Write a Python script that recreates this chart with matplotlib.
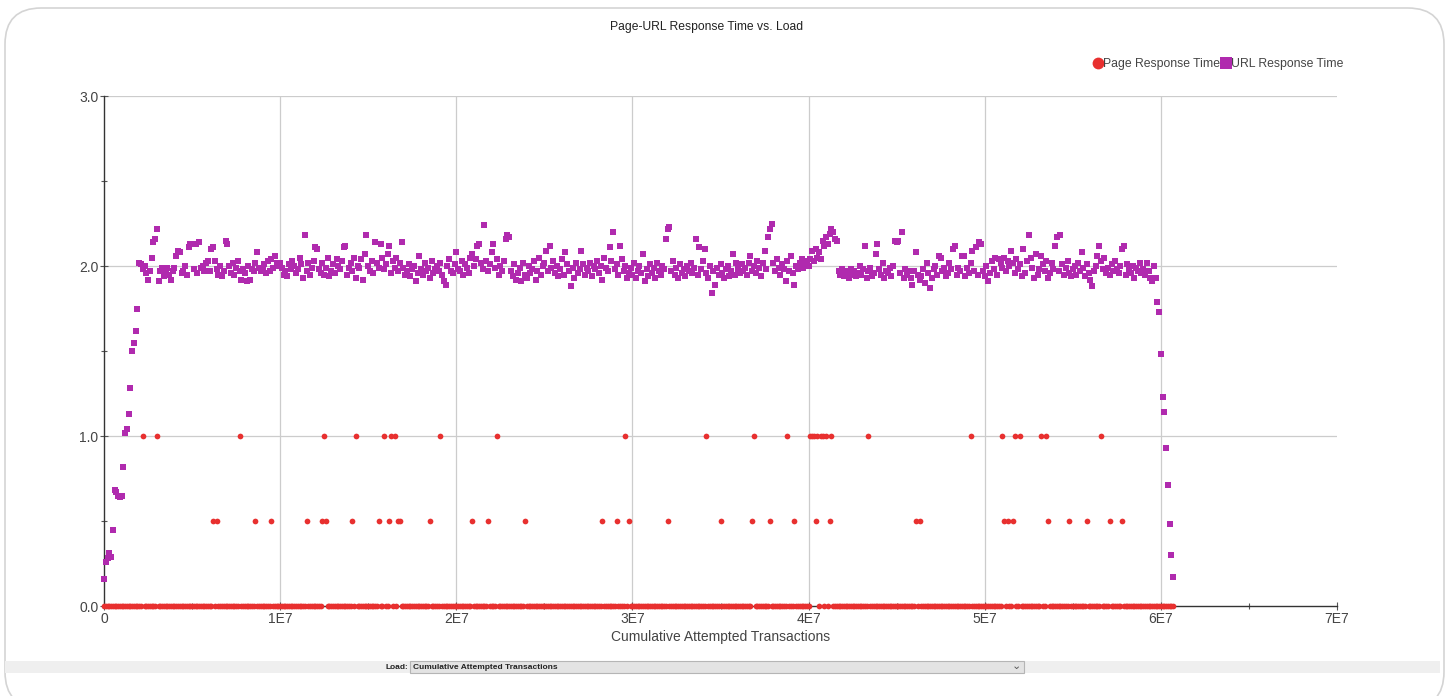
import numpy as np
import matplotlib
matplotlib.use("Agg")
import matplotlib.pyplot as plt
from matplotlib.lines import Line2D
from matplotlib.patches import FancyBboxPatch, Rectangle

plt.rcParams['font.family'] = ['Liberation Sans', 'DejaVu Sans']

# URL response time, one sample per 1E5 attempted transactions (10 per row = 1E6)
url_time = [
    0.16, 0.26, 0.28, 0.31, 0.29, 0.45, 0.68, 0.67, 0.65, 0.64,
    0.65, 0.82, 1.02, 1.04, 1.13, 1.28, 1.50, 1.55, 1.62, 1.75,
    2.02, 2.01, 1.98, 2.00, 1.96, 1.92, 1.97, 2.05, 2.14, 2.16,
    2.22, 1.91, 1.97, 1.99, 1.94, 1.96, 1.99, 1.95, 1.92, 1.97,
    1.99, 2.06, 2.09, 2.08, 1.96, 1.97, 2.00, 1.95, 2.11, 2.13,
    2.13, 1.98, 2.13, 1.96, 2.14, 1.99, 2.00, 1.97, 2.02, 2.03,
    1.97, 2.10, 2.11, 2.03, 1.98, 1.95, 2.00, 1.94, 1.97, 2.15,
    2.13, 2.00, 1.96, 2.02, 1.95, 1.99, 2.03, 1.97, 1.92, 1.98,
    1.96, 1.91, 2.00, 1.92, 1.98, 1.97, 2.02, 2.08, 1.99, 1.97,
    1.98, 2.01, 1.96, 2.03, 1.97, 2.04, 1.99, 2.06, 2.02, 2.00,
    2.02, 1.99, 1.95, 1.97, 1.94, 2.01, 1.98, 2.03, 2.00, 1.96,
    1.98, 2.05, 2.01, 1.93, 2.18, 1.97, 2.02, 1.95, 1.99, 2.03,
    2.11, 2.10, 1.98, 1.96, 2.02, 1.95, 1.99, 2.05, 1.94, 1.97,
    2.01, 1.96, 2.04, 2.00, 1.98, 2.03, 2.11, 2.12, 1.95, 1.99,
    2.02, 1.97, 2.05, 1.93, 2.00, 1.99, 2.04, 1.92, 2.07, 2.18,
    2.00, 1.97, 2.03, 1.96, 2.14, 2.02, 1.99, 2.13, 2.05, 1.98,
    2.01, 2.07, 2.12, 1.96, 2.03, 1.99, 2.05, 1.97, 2.02, 2.14,
    1.99, 1.95, 1.97, 2.01, 1.94, 1.98, 2.00, 1.91, 1.96, 2.06,
    1.98, 1.95, 2.02, 1.97, 1.99, 1.93, 2.03, 1.96, 1.98, 2.00,
    1.97, 2.02, 1.95, 1.91, 1.89, 2.00, 2.04, 1.97, 1.96, 2.01,
    2.08, 1.98, 1.97, 2.03, 1.95, 2.01, 1.99, 1.96, 2.05, 2.07,
    2.00, 2.04, 2.12, 2.13, 2.02, 1.98, 2.24, 2.03, 1.97, 2.01,
    2.08, 2.13, 1.99, 2.04, 1.95, 2.00, 1.97, 2.03, 2.16, 2.18,
    2.17, 1.97, 1.94, 2.01, 1.92, 1.96, 1.99, 1.91, 2.02, 1.95,
    1.93, 2.00, 1.96, 1.98, 2.03, 1.92, 1.97, 2.05, 1.95, 2.00,
    2.02, 2.09, 1.97, 2.12, 1.99, 2.03, 1.96, 2.00, 1.94, 1.98,
    2.04, 1.95, 2.08, 2.01, 1.97, 1.88, 1.99, 1.93, 2.02, 1.96,
    1.98, 2.09, 2.01, 1.95, 1.99, 1.97, 2.02, 1.94, 2.00, 1.98,
    2.03, 1.96, 2.00, 1.92, 2.05, 1.99, 1.97, 2.11, 2.03, 2.20,
    1.98, 2.01, 1.95, 2.12, 2.04, 1.97, 2.00, 1.93, 1.96, 1.99,
    1.95, 2.02, 1.93, 1.97, 2.00, 1.96, 2.07, 1.91, 1.98, 1.94,
    2.01, 1.96, 1.99, 1.93, 2.02, 1.97, 1.95, 2.00, 1.98, 2.16,
    2.22, 2.23, 1.97, 2.03, 1.95, 1.99, 1.93, 2.01, 1.96, 1.98,
    1.94, 2.00, 1.97, 2.02, 1.96, 1.99, 2.16, 1.95, 2.11, 1.98,
    2.03, 2.10, 1.96, 1.93, 2.00, 1.84, 1.97, 1.89, 1.99, 1.95,
    2.01, 1.96, 1.93, 1.98, 2.00, 1.94, 1.97, 2.07, 1.95, 2.02,
    1.98, 1.96, 2.01, 1.97, 1.99, 1.95, 2.02, 2.06, 1.97, 2.00,
    1.96, 2.03, 1.99, 1.94, 2.02, 2.09, 1.98, 2.17, 2.22, 2.25,
    2.02, 1.97, 2.04, 1.99, 1.95, 2.01, 1.98, 1.91, 2.03, 1.97,
    2.06, 1.96, 1.89, 2.00, 1.98, 2.02, 2.04, 1.99, 2.01, 2.03,
    2.00, 2.04, 2.09, 2.03, 2.10, 2.05, 2.08, 2.04, 2.15, 2.12,
    2.17, 2.13, 2.19, 2.22, 2.20, 2.16, 2.15, 1.97, 1.95, 1.98,
    1.94, 1.97, 1.96, 1.93, 1.98, 1.95, 1.97, 1.94, 1.96, 2.00,
    1.95, 1.98, 2.12, 1.93, 1.97, 1.99, 1.94, 1.96, 2.07, 2.13,
    1.98, 1.95, 2.02, 1.93, 1.97, 1.96, 1.99, 1.94, 2.00, 2.15,
    2.14, 2.15, 1.96, 2.20, 1.93, 1.98, 1.95, 1.97, 1.93, 1.89,
    1.97, 2.08, 1.95, 1.92, 1.94, 1.98, 1.90, 2.02, 1.96, 1.87,
    1.93, 1.98, 2.00, 1.95, 2.06, 2.05, 1.97, 1.99, 1.94, 1.96,
    2.02, 1.98, 2.10, 2.12, 1.95, 1.99, 1.97, 2.06, 2.06, 1.94,
    1.99, 1.96, 2.02, 2.09, 1.97, 2.11, 1.95, 2.14, 2.13, 1.97,
    1.94, 2.00, 1.91, 1.96, 2.03, 1.98, 2.05, 1.95, 2.04, 2.02,
    1.99, 2.05, 1.97, 2.03, 2.00, 2.09, 2.02, 1.96, 2.04, 1.98,
    2.01, 1.94, 2.10, 1.96, 2.03, 2.18, 2.05, 1.99, 1.93, 2.07,
    1.95, 1.98, 2.06, 2.01, 1.97, 2.03, 1.93, 1.96, 2.02, 1.98,
    2.12, 2.17, 1.97, 2.18, 2.01, 1.95, 1.99, 2.03, 1.96, 1.94,
    1.98, 2.00, 1.95, 2.02, 1.97, 2.08, 1.99, 1.94, 2.01, 1.96,
    1.92, 1.88, 1.97, 2.00, 2.06, 2.12, 2.03, 1.98, 2.05, 1.96,
    1.99, 1.95, 2.01, 1.97, 2.03, 1.98, 1.96, 2.00, 2.10, 2.12,
    1.95, 2.01, 1.98, 1.96, 2.00, 1.93, 1.99, 1.97, 2.02, 1.96,
    1.98, 1.95, 2.02, 1.97, 1.93, 1.91, 2.00, 1.93, 1.79, 1.73,
    1.48, 1.23, 1.14, 0.93, 0.71, 0.48, 0.30, 0.17,
]
load_step = 1.0e5

# Page response time is 0 except at these loads (millions of transactions)
page_one_load = [2.16, 3.01, 7.72, 12.49, 14.30, 15.91, 16.29, 16.48, 19.07, 22.26,
                 29.63, 34.24, 36.93, 38.75, 40.07, 40.18, 40.30, 40.46, 40.69, 40.80,
                 40.98, 41.32, 43.42, 49.17, 50.98, 51.74, 52.00, 53.25, 53.54, 56.62]
page_half_load = [6.25, 6.35, 8.57, 9.53, 11.54, 12.41, 12.60, 14.11, 15.55, 16.23,
                  16.67, 16.80, 18.50, 20.94, 21.79, 23.88, 28.28, 29.13, 29.80, 32.03,
                  35.00, 36.83, 37.81, 39.23, 40.08, 41.22, 46.08, 46.31, 51.04, 51.27,
                  51.65, 53.56, 54.81, 55.75, 57.09, 57.78]

x_ticks = [0, 1e7, 2e7, 3e7, 4e7, 5e7, 6e7, 7e7]
x_labels = ['0', '1E7', '2E7', '3E7', '4E7', '5E7', '6E7', '7E7']
y_ticks = [0.0, 1.0, 2.0, 3.0]

RED = '#e8302f'
PURPLE = '#b02aae'

load = np.arange(len(url_time)) * load_step
page_time = np.zeros(len(url_time))
for vals, v in ((page_one_load, 1.0), (page_half_load, 0.5)):
    for m in vals:
        i = int(round(m * 1e6 / load_step))
        while page_time[i] != 0:
            i += 1
        page_time[i] = v

W, H = 1449, 696
fig = plt.figure(figsize=(W / 100, H / 100), dpi=100)

# rounded panel border (behind everything)
fig.patches.append(FancyBboxPatch((5 / W, -12 / H), 1439 / W, (H - 8 + 12) / H,
                                  boxstyle="round,pad=0,rounding_size=0.025",
                                  transform=fig.transFigure, fc='white', ec='#d4d4d4', lw=1.2,
                                  mutation_aspect=W / H, zorder=-10))

ax = fig.add_axes([104 / W, 1 - 606 / H, 1233 / W, 510 / H])
ax.patch.set_alpha(0)

ax.scatter(load, page_time, s=17, marker='o', color=RED, lw=0, clip_on=False, zorder=3)
ax.scatter(load, url_time, s=15, marker='s', color=PURPLE, lw=0, clip_on=False, zorder=4)

ax.set_xlim(0, 7e7)
ax.set_ylim(0, 3.0)
ax.set_xticks(x_ticks)
ax.set_xticklabels(x_labels)
ax.set_xticks(np.arange(0, 7e7 + 1, 5e6), minor=True)
ax.set_yticks(y_ticks)
ax.set_yticklabels(['%.1f' % v for v in y_ticks])
ax.set_yticks(np.arange(0, 3.01, 0.5), minor=True)
ax.tick_params(axis='both', which='major', direction='inout', length=6, width=0.8,
               color='#555555', labelcolor='#444444', labelsize=10, pad=1)
ax.tick_params(axis='both', which='minor', direction='inout', length=4, width=0.8, color='#555555')
ax.grid(True, which='major', color='#cccccc', lw=0.9, zorder=0)
ax.xaxis.get_gridlines()[0].set_visible(False)
ax.xaxis.get_gridlines()[-1].set_visible(False)
ax.yaxis.get_gridlines()[0].set_visible(False)
for s in ('top', 'right'):
    ax.spines[s].set_visible(False)
for s in ('left', 'bottom'):
    ax.spines[s].set_color('#333333')
    ax.spines[s].set_linewidth(1.0)
ax.set_axisbelow(True)
ax.set_xlabel('Cumulative Attempted Transactions', fontsize=10, color='#444444', labelpad=3)

fig.text(707 / W, 1 - 27 / H, 'Page-URL Response Time vs. Load', ha='center', va='center',
         fontsize=8.7, color='#222222')

handles = [Line2D([], [], ls='', marker='o', ms=8.5, color=RED, mew=0),
           Line2D([], [], ls='', marker='s', ms=8.5, color=PURPLE, mew=0)]
fig.legend(handles, ['Page Response Time', 'URL Response Time'], loc='center right',
           bbox_to_anchor=(1349 / W, 1 - 64 / H), ncol=2, frameon=False, fontsize=8.8,
           handlelength=0.7, handletextpad=0.05, columnspacing=0.1, borderpad=0,
           labelcolor='#444444')

# bottom control bar
fig.patches.append(Rectangle((5 / W, 1 - 673 / H), 1435 / W, 12 / H, transform=fig.transFigure,
                             fc='#efefef', ec='none'))
fig.patches.append(Rectangle((410 / W, 1 - 673 / H), 614 / W, 12 / H, transform=fig.transFigure,
                             fc='#e3e3e3', ec='#b5b5b5', lw=0.8))
fig.text(408 / W, 1 - 667.5 / H, 'Load:', ha='right', va='center', fontsize=6, weight='bold',
         color='#222222')
fig.text(413 / W, 1 - 667.5 / H, 'Cumulative Attempted Transactions', ha='left', va='center',
         fontsize=6, weight='bold', color='#222222')
fig.text(1016 / W, 1 - 666 / H, '\u2304', ha='center', va='center', fontsize=8,
         color='#555555', family=['DejaVu Sans'])

fig.savefig('out.png', dpi=100)
